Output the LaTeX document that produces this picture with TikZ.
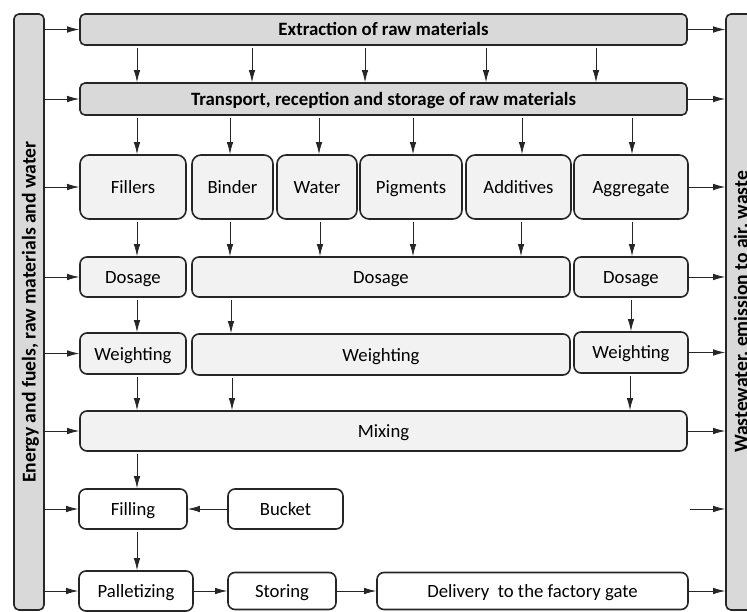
\documentclass[tikz,border=0pt]{standalone}
\usepackage{fontspec}
\setmainfont{Carlito}
\usetikzlibrary{arrows.meta}

\tikzset{%
    box/.style = {%
        draw = black!85,
        line width = 1.6pt,
        align = center,
        inner sep = 0pt,
        text height = 16pt,
        text depth = 3pt,
        font = \fontsize{18.7}{21}\selectfont,
    },
    header/.style = {box, fill = black!15, rounded corners = 5pt, font = \fontsize{18.8}{21}\selectfont\bfseries},
    sidebar/.style = {header, rotate = 90, font = \fontsize{19.6}{22}\selectfont\bfseries},
    material/.style = {box, fill = black!5, rounded corners = 9pt},
    stage/.style = {box, fill = black!5, rounded corners = 7pt},
    product/.style = {box, fill = white, rounded corners = 7pt},
    flow/.style = {-{Latex[length = 12pt, width = 6.5pt]}, line width = 0.8pt, draw = black!85},
}

\begin{document}
\begin{tikzpicture}[x = 1pt, y = -1pt]
        \useasboundingbox (0, 0) rectangle (747, 612);
        \clip (0, 0) rectangle (747, 612);

        % Side bars with the inputs and the outputs of the plant.
        \node[sidebar, minimum width = 596, minimum height = 30] (inputs) at (29, 312) {Energy and fuels, raw materials and water};
        \node[sidebar, minimum width = 596, minimum height = 30] (outputs) at (741, 312) {Wastewater, emission to air, waste};

        \node[header, minimum width = 607, minimum height = 31] (extraction) at (383.5, 29.5) {Extraction of raw materials};
        \node[header, minimum width = 607, minimum height = 32] (transport) at (383.5, 99) {Transport, reception and storage of raw materials};

        % Raw materials.
        \node[material, minimum width = 106, minimum height = 64] (fillers) at (133, 187) {Fillers};
        \node[material, minimum width = 81, minimum height = 64] (binder) at (232.5, 187) {Binder};
        \node[material, minimum width = 80, minimum height = 64] (water) at (317, 187) {Water};
        \node[material, minimum width = 102, minimum height = 64] (pigments) at (411, 187) {Pigments};
        \node[material, minimum width = 105, minimum height = 64] (additives) at (518.5, 187) {Additives};
        \node[material, minimum width = 114, minimum height = 64] (aggregate) at (631, 187) {Aggregate};

        \node[stage, minimum width = 106, minimum height = 40] (dosageA) at (133, 277) {Dosage};
        \node[stage, minimum width = 378, minimum height = 40] (dosageB) at (381, 277) {Dosage};
        \node[stage, minimum width = 114, minimum height = 40] (dosageC) at (631, 277) {Dosage};

        \node[stage, minimum width = 106, minimum height = 41] (weightingA) at (133, 353.5) {Weighting};
        \node[stage, minimum width = 378, minimum height = 41] (weightingB) at (381, 354.5) {Weighting};
        \node[stage, minimum width = 114, minimum height = 41] (weightingC) at (631, 352.5) {Weighting};

        \node[stage, minimum width = 607, minimum height = 40] (mixing) at (383.5, 431) {Mixing};

        % Finished product.
        \node[product, minimum width = 108, minimum height = 40] (filling) at (133, 509) {Filling};
        \node[product, minimum width = 115, minimum height = 40] (bucket) at (285.5, 509) {Bucket};
        \node[product, minimum width = 114, minimum height = 40] (palletizing) at (136, 591) {Palletizing};
        \node[product, minimum width = 108, minimum height = 37] (storing) at (282, 591) {Storing};
        \node[product, minimum width = 311, minimum height = 37] (delivery) at (532.5, 591) {Delivery~ to the factory gate};

        \coordinate (loose) at (690, 509);

        \foreach \n in {extraction, transport, fillers, dosageA, weightingA, mixing, filling, palletizing}
            \draw[flow] (inputs.south |- \n.west) -- (\n.west);
        \foreach \n in {extraction, transport, aggregate, dosageC, weightingC, mixing, loose, delivery}
            \draw[flow] (\n.east) -- (outputs.north |- \n.east);

        \foreach \x in {137, 252, 365, 486, 596}
            \draw[flow, shorten < = 2pt] (extraction.south -| \x, 0) -- (transport.north -| \x, 0);
        \foreach \x/\n in {137/fillers, 230/binder, 319/water, 413/pigments, 522/additives, 632/aggregate}
            \draw[flow, shorten < = 2pt] (transport.south -| \x, 0) -- (\n.north -| \x, 0);
        \foreach \x/\a/\b in {137/fillers/dosageA, 230/binder/dosageB, 320/water/dosageB, 413/pigments/dosageB,
                521/additives/dosageB, 632/aggregate/dosageC, 137/dosageA/weightingA, 231/dosageB/weightingB,
                631/dosageC/weightingC, 137/weightingA/mixing, 232/weightingB/mixing, 630/weightingC/mixing,
                137/mixing/filling, 137/filling/palletizing}
            \draw[flow, shorten < = 2pt] (\a.south -| \x, 0) -- (\b.north -| \x, 0);

        \draw[flow] (bucket.west) -- (filling.east);
        \draw[flow] (palletizing.east) -- (storing.west);
        \draw[flow] (storing.east) -- (delivery.west);
    \end{tikzpicture}
\end{document}
